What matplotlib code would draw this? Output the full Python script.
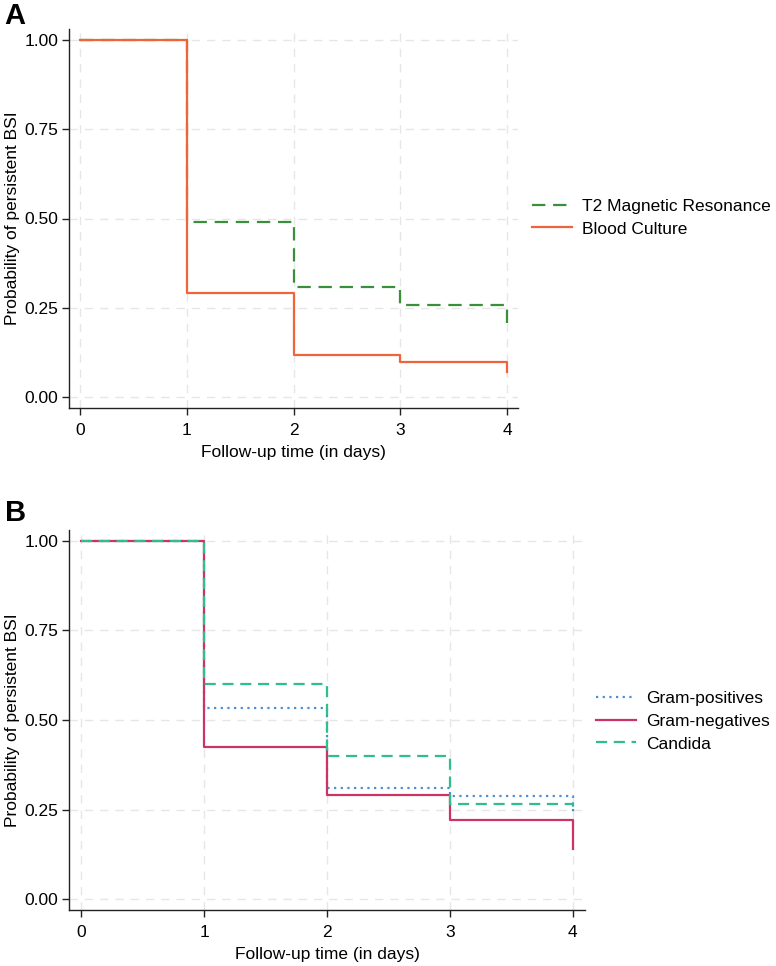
import numpy as np
import matplotlib.pyplot as plt

plt.rcParams['font.family'] = ['Liberation Sans', 'DejaVu Sans']

# follow-up days
days = [0, 1, 2, 3, 4]

# panel A: by diagnostic method
t2_surv = [1.0, 0.489, 0.309, 0.257, 0.187]
bc_surv = [1.0, 0.293, 0.118, 0.098, 0.072]

# panel B: by pathogen group
gpos_surv = [1.0, 0.533, 0.311, 0.288, 0.234]
gneg_surv = [1.0, 0.424, 0.290, 0.222, 0.140]
cand_surv = [1.0, 0.600, 0.400, 0.267, 0.257]

yticks = [0.0, 0.25, 0.5, 0.75, 1.0]
ylabel = "Probability of persistent BSI"
xlabel = "Follow-up time (in days)"

W, H = 776, 966
FS = 12.5
fig = plt.figure(figsize=(W / 100, H / 100), dpi=100)


def style_axes(ax, ax_w, ax_h):
    ax.set_xlim(-0.1, 4.1)
    ax.set_ylim(-0.03, 1.03)
    ax.set_xticks(days)
    ax.set_yticks(yticks)
    ax.set_yticklabels([f"{v:.2f}" for v in yticks])
    ax.grid(True, color='#e6e6e6', linestyle=(0, (6, 5)), linewidth=1.0)
    ax.set_axisbelow(True)
    for s in ['top', 'right']:
        ax.spines[s].set_visible(False)
    for s in ['left', 'bottom']:
        ax.spines[s].set_color('#222222')
        ax.spines[s].set_linewidth(1.0)
    ax.tick_params(direction='out', length=5, width=1.0, labelsize=FS,
                   color='#222222')
    ax.tick_params(axis='x', pad=6)
    ax.tick_params(axis='y', pad=2.5)
    ax.set_xlabel(xlabel, fontsize=FS, va='center')
    ax.set_ylabel(ylabel, fontsize=FS, va='center')
    # place axis titles in pixel offsets from the spines
    ax.xaxis.set_label_coords(0.5, -44 / ax_h)
    ax.yaxis.set_label_coords(-56.5 / ax_w, 0.5)


# panel A
axA = fig.add_axes([69 / W, 1 - 408 / H, 449 / W, 379 / H])
axA.step(days, t2_surv, where='post', color='#3a8f3a', lw=1.6,
         linestyle=(0, (6, 3.5)), label="T2 Magnetic Resonance")
axA.step(days, bc_surv, where='post', color='#f0643a', lw=1.6,
         label="Blood Culture")
style_axes(axA, 449, 379)
axA.legend(loc='center left', bbox_to_anchor=(532 / W, 1 - 217.5 / H),
           bbox_transform=fig.transFigure, frameon=False, fontsize=FS,
           handlelength=2.3, handletextpad=0.6, borderpad=0,
           borderaxespad=0, labelspacing=0.45)
fig.text(4 / W, 1 - 16.5 / H, "A", fontsize=21, fontweight='bold',
         va='center', ha='left')

# panel B
axB = fig.add_axes([69 / W, 1 - 910 / H, 516 / W, 380 / H])
axB.step(days, gpos_surv, where='post', color='#4a8fd4', lw=1.6,
         linestyle=(0, (1, 2)), label="Gram-positives")
axB.step(days, gneg_surv, where='post', color='#cc3366', lw=1.6,
         label="Gram-negatives")
axB.step(days, cand_surv, where='post', color='#2fbf8c', lw=1.6,
         linestyle=(0, (5, 3)), label="Candida")
style_axes(axB, 516, 380)
axB.legend(loc='center left', bbox_to_anchor=(596 / W, 1 - 721 / H),
           bbox_transform=fig.transFigure, frameon=False, fontsize=FS,
           handlelength=2.3, handletextpad=0.6, borderpad=0,
           borderaxespad=0, labelspacing=0.45)
fig.text(5 / W, 1 - 513 / H, "B", fontsize=21, fontweight='bold',
         va='center', ha='left')

fig.savefig("out.png", dpi=100)
